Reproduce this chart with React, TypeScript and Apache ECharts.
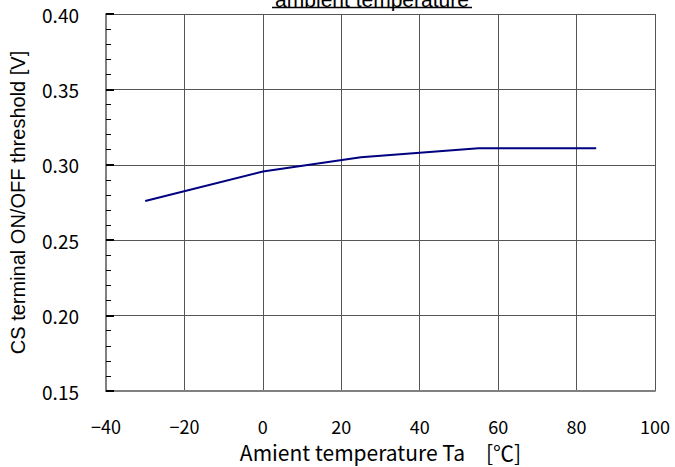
import React, { useEffect, useRef } from "react";
import * as echarts from "echarts";

const temperatures = [-30, 0, 25, 55, 85];
const thresholds = [0.276, 0.2955, 0.305, 0.311, 0.311];
const xTitle = "Amient temperature Ta\u3000[\u2103]";
const yTitle = "CS terminal ON/OFF threshold [V]";
const chartTitle = "ambient temperature";

const JP = "'Noto Sans CJK JP', sans-serif";
const ARIAL = "'Liberation Sans', Arial, sans-serif";

export default function App() {
  const ref = useRef<HTMLDivElement>(null);
  useEffect(() => {
    if (!ref.current) return;
    const chart = echarts.init(ref.current, null, { renderer: "svg" });
    chart.setOption({
      animation: false,
      backgroundColor: "#ffffff",
      grid: { left: 106, right: 20, top: 14, bottom: 75, containLabel: false },
      graphic: [
        {
          type: "text",
          x: 372,
          y: 10,
          style: {
            text: chartTitle,
            font: `21px ${ARIAL}`,
            fill: "#000",
            textAlign: "center",
            textVerticalAlign: "bottom",
          },
        },
        {
          type: "line",
          shape: { x1: 272, y1: 7.5, x2: 472, y2: 7.5 },
          style: { stroke: "#000", lineWidth: 1.5 },
        },
      ],
      xAxis: {
        type: "value",
        min: -40,
        max: 100,
        interval: 20,
        axisLine: { show: true, onZero: false, lineStyle: { color: "#808080", width: 2 } },
        axisTick: { show: false },
        splitLine: { show: true, lineStyle: { color: "#555", width: 1 } },
        axisLabel: {
          fontFamily: JP,
          fontSize: 18,
          lineHeight: 18,
          color: "#000",
          margin: 26,
          formatter: (v: number) => String(v).replace("-", "\u2212"),
        },
        name: xTitle,
        nameLocation: "middle",
        nameGap: 50,
        nameTextStyle: { fontFamily: JP, fontSize: 21, lineHeight: 21, color: "#000" },
      },
      yAxis: {
        type: "value",
        min: 0.15,
        max: 0.4,
        interval: 0.05,
        axisLine: { show: true, onZero: false, lineStyle: { color: "#808080", width: 2 } },
        axisTick: { show: true, inside: true, length: 8, lineStyle: { color: "#000", width: 2 } },
        minorTick: { show: true, splitNumber: 5, length: 5, lineStyle: { color: "#000", width: 1 } },
        splitLine: { show: true, lineStyle: { color: "#555", width: 1 } },
        axisLabel: {
          fontFamily: JP,
          fontSize: 19,
          color: "#000",
          margin: 27,
          formatter: (v: number) => v.toFixed(2),
        },
        name: yTitle,
        nameLocation: "middle",
        nameGap: 78,
        nameTextStyle: { fontFamily: ARIAL, fontSize: 20, color: "#000" },
      },
      series: [
        {
          type: "line",
          data: temperatures.map((t, i) => [t, thresholds[i]]),
          showSymbol: false,
          symbol: "none",
          lineStyle: { color: "#000080", width: 2 },
          itemStyle: { color: "#000080" },
        },
      ],
    });
    return () => chart.dispose();
  }, []);
  return <div ref={ref} style={{ width: 675, height: 467, position: "absolute", left: 0, top: 0 }} />;
}
